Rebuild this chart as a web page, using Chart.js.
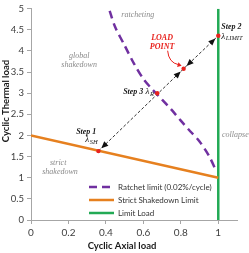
<!DOCTYPE html>
<html>
<head>
<meta charset="utf-8">
<script src="https://cdn.jsdelivr.net/npm/chart.js@4.4.0/dist/chart.umd.min.js"></script>
<style>
  html, body { margin: 0; padding: 0; background: #fff; }
  #wrap { width: 249px; height: 253px; }
</style>
</head>
<body>
<div id="wrap"><canvas id="chartArea"></canvas></div>
<script>
// ratchet limit curve (0.02%/cycle)
const ratchetX = [0.42, 0.45, 0.50, 0.55, 0.60, 0.65, 0.70, 0.75, 0.80, 0.85, 0.90, 0.95, 0.99];
const ratchetY = [4.95, 4.56, 4.13, 3.70, 3.34, 3.08, 2.85, 2.61, 2.35, 2.10, 1.86, 1.52, 1.15];
// strict shakedown limit
const shakedownX = [0, 1];
const shakedownY = [2, 1];
// limit load
const limitX = [1, 1];
const limitY = [0, 5];
// load path: lambda_SH -> load point -> lambda_LIMIT
const pathX = [0.36, 0.815, 1.0];
const pathY = [1.63, 3.58, 4.36];
// marked points: lambda_SH, lambda_R, load point, lambda_LIMIT
const markX = [0.36, 0.674, 0.815, 1.0];
const markY = [1.63, 3.0, 3.58, 4.36];

const xTicks = [0, 0.2, 0.4, 0.6, 0.8, 1];
const yTicks = [0, 0.5, 1, 1.5, 2, 2.5, 3, 3.5, 4, 4.5, 5];

const toPoints = (xs, ys) => xs.map((v, i) => ({ x: v, y: ys[i] }));

const serif = '"Liberation Serif", "DejaVu Serif", serif';
const sans = 'Lato, "Open Sans", sans-serif';

function arrowHead(ctx, tipX, tipY, fromX, fromY, len, half, color) {
  const a = Math.atan2(tipY - fromY, tipX - fromX);
  ctx.save();
  ctx.fillStyle = color;
  ctx.translate(tipX, tipY);
  ctx.rotate(a);
  ctx.beginPath();
  ctx.moveTo(0, 0);
  ctx.lineTo(-len, -half);
  ctx.lineTo(-len, half);
  ctx.closePath();
  ctx.fill();
  ctx.restore();
}

function lambda(ctx, sub, x0, y0) {
  ctx.font = 'italic 9px ' + serif;
  ctx.textAlign = 'left';
  ctx.textBaseline = 'middle';
  ctx.fillText('λ', x0, y0);
  const w = ctx.measureText('λ').width;
  ctx.font = 'italic 6.5px ' + serif;
  ctx.fillText(sub, x0 + w + 0.5, y0 + 2.5);
}

const overlay = {
  id: 'overlay',
  afterDatasetsDraw(chart) {
    const { ctx, scales: { x, y } } = chart;
    const px = v => x.getPixelForValue(v);
    const py = v => y.getPixelForValue(v);
    ctx.save();

    // arrow heads at both ends of each path segment
    for (let i = 0; i < pathX.length - 1; i++) {
      const ax = px(pathX[i]), ay = py(pathY[i]);
      const bx = px(pathX[i + 1]), by = py(pathY[i + 1]);
      const d = Math.hypot(bx - ax, by - ay);
      const ux = (bx - ax) / d, uy = (by - ay) / d;
      arrowHead(ctx, bx - ux * 4, by - uy * 4, ax, ay, 7, 3, '#111');
      arrowHead(ctx, ax + ux * 4, ay + uy * 4, bx, by, 7, 3, '#111');
    }

    // region labels
    ctx.fillStyle = '#8a8a8a';
    ctx.font = 'italic 8px ' + serif;
    ctx.textAlign = 'center';
    ctx.textBaseline = 'middle';
    ctx.fillText('ratcheting', px(0.57), py(4.86));
    ctx.fillText('global', px(0.257), py(3.88));
    ctx.fillText('shakedown', px(0.257), py(3.67));
    ctx.fillText('strict', px(0.145), py(1.35));
    ctx.fillText('shakedown', px(0.155), py(1.14));
    ctx.textAlign = 'left';
    ctx.fillText('collapse', px(1.02), py(2.02));

    // step labels
    ctx.fillStyle = '#1a1a1a';
    ctx.font = 'bold italic 8px ' + serif;
    ctx.textAlign = 'center';
    ctx.fillText('Step 1', px(0.295), py(2.09));
    lambda(ctx, 'SH', px(0.29), py(1.9));
    ctx.font = 'bold italic 8px ' + serif;
    ctx.textAlign = 'left';
    ctx.fillText('Step 2', px(1.016), py(4.58));
    lambda(ctx, 'LIMIT', px(1.016), py(4.35));
    ctx.font = 'bold italic 8px ' + serif;
    ctx.textAlign = 'right';
    ctx.fillText('Step 3', px(0.600), py(3.03));
    lambda(ctx, 'R', px(0.612), py(3.03));

    // load point label with curved arrow
    ctx.fillStyle = '#e8231e';
    ctx.font = 'bold italic 8px ' + serif;
    ctx.textAlign = 'center';
    ctx.fillText('LOAD', px(0.70), py(4.30));
    ctx.fillText('POINT', px(0.70), py(4.09));
    const lx = px(pathX[1]), ly = py(pathY[1]);
    ctx.strokeStyle = '#e8231e';
    ctx.lineWidth = 1;
    ctx.beginPath();
    ctx.moveTo(lx - 16, ly - 18);
    ctx.quadraticCurveTo(lx - 15, ly - 6, lx - 5, ly - 4);
    ctx.stroke();
    arrowHead(ctx, lx - 2, ly - 3, lx - 9, ly - 5, 4, 2.5, '#e8231e');

    // legend inside plot area
    const rows = chart.data.datasets.filter(ds => ds.legendRow !== undefined)
      .sort((a, b) => a.legendRow - b.legendRow);
    rows.forEach((ds, i) => {
      const yy = 187 + i * 13;
      ctx.strokeStyle = ds.borderColor;
      ctx.lineWidth = 2.5;
      ctx.setLineDash(ds.borderDash || []);
      ctx.beginPath();
      ctx.moveTo(89, yy);
      ctx.lineTo(114, yy);
      ctx.stroke();
      ctx.setLineDash([]);
      ctx.fillStyle = '#333';
      ctx.font = '8px ' + sans;
      ctx.textAlign = 'left';
      ctx.textBaseline = 'middle';
      ctx.fillText(ds.label, 118, yy);
    });

    // axis titles
    ctx.fillStyle = '#1a1a1a';
    ctx.font = 'bold 9.5px ' + sans;
    ctx.textAlign = 'center';
    ctx.textBaseline = 'middle';
    ctx.fillText('Cyclic Axial load', 122, 246);
    ctx.translate(6, 101);
    ctx.rotate(-Math.PI / 2);
    ctx.fillText('Cyclic Thermal load', 0, 0);
    ctx.restore();
  }
};

const ctx = document.getElementById('chartArea');
new Chart(ctx, {
  type: 'scatter',
  data: {
    datasets: [
      {
        label: 'key points',
        data: toPoints(markX, markY),
        pointRadius: 2.2,
        pointBackgroundColor: '#e8231e',
        pointBorderWidth: 0,
        showLine: false,
        order: 0
      },
      {
        label: 'load path',
        data: toPoints(pathX, pathY),
        showLine: true,
        borderColor: '#333',
        borderWidth: 1,
        borderDash: [3, 2],
        pointRadius: 0,
        order: 1
      },
      {
        label: 'Ratchet limit (0.02%/cycle)',
        legendRow: 0,
        data: toPoints(ratchetX, ratchetY),
        showLine: true,
        tension: 0.3,
        borderColor: '#7030a0',
        borderWidth: 2.5,
        borderDash: [8, 5],
        pointRadius: 0,
        order: 2
      },
      {
        label: 'Strict Shakedown Limit',
        legendRow: 1,
        data: toPoints(shakedownX, shakedownY),
        showLine: true,
        borderColor: '#e6801f',
        borderWidth: 2.5,
        pointRadius: 0,
        order: 3
      },
      {
        label: 'Limit Load',
        legendRow: 2,
        data: toPoints(limitX, limitY),
        showLine: true,
        borderColor: '#22aa55',
        borderWidth: 2.5,
        pointRadius: 0,
        order: 4
      }
    ]
  },
  options: {
    responsive: true,
    maintainAspectRatio: false,
    animation: false,
    layout: { padding: { top: 5, right: 12, left: 0, bottom: 0 } },
    plugins: {
      legend: { display: false },
      tooltip: { enabled: false }
    },
    scales: {
      x: {
        min: 0,
        max: 1.1,
        afterBuildTicks: s => { s.ticks = xTicks.map(v => ({ value: v })); },
        afterFit: s => { s.height = 33; },
        grid: { drawOnChartArea: false, tickLength: 4, color: '#a6a6a6' },
        border: { color: '#a6a6a6' },
        ticks: { color: '#404040', font: { family: sans, size: 10 }, padding: 3, maxRotation: 0,
                 callback: v => String(v) }
      },
      y: {
        min: 0,
        max: 5,
        afterBuildTicks: s => { s.ticks = yTicks.map(v => ({ value: v })); },
        afterFit: s => { s.width = 31; },
        grid: { drawOnChartArea: false, tickLength: 4, color: '#a6a6a6' },
        border: { color: '#a6a6a6' },
        ticks: { color: '#404040', font: { family: sans, size: 9.5 }, padding: 3,
                 callback: v => String(v) }
      }
    }
  },
  plugins: [overlay]
});
</script>
</body>
</html>
